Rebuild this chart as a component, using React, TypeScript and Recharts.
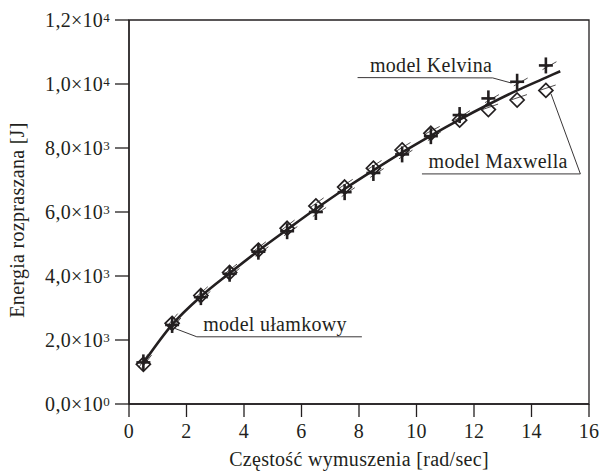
import React from 'react';
import {
  ComposedChart,
  Line,
  XAxis,
  YAxis,
  ReferenceArea,
  ReferenceLine,
  ReferenceDot,
} from 'recharts';

const INK = '#231f20';
const FONT = '"Liberation Serif", "Times New Roman", serif';
const FONT_SIZE = 20;
const SPACING = 0.3;

// Forcing frequency [rad/sec] at which the models were evaluated
const pulsation = [0.5, 1.5, 2.5, 3.5, 4.5, 5.5, 6.5, 7.5, 8.5, 9.5, 10.5, 11.5, 12.5, 13.5, 14.5];

// Dissipated energy [J] – Kelvin model (+)
const kelvinEnergy = [1300, 2470, 3340, 4070, 4760, 5400, 6000, 6620, 7220, 7800, 8370, 9030, 9550, 10070, 10580];

// Dissipated energy [J] – Maxwell model (diamonds)
const maxwellEnergy = [1240, 2520, 3390, 4110, 4810, 5490, 6190, 6780, 7370, 7940, 8460, 8870, 9200, 9500, 9800];

// Dissipated energy [J] – fractional model (solid curve)
const fractionalX = [0.5, 1.5, 2.5, 3.5, 4.5, 5.5, 6.5, 7.5, 8.5, 9.5, 10.5, 11.5, 12.5, 13.5, 14.5, 15];
const fractionalEnergy = [1280, 2480, 3360, 4090, 4790, 5450, 6100, 6720, 7300, 7860, 8390, 8890, 9360, 9800, 10200, 10400];

const xTicks = [0, 2, 4, 6, 8, 10, 12, 14, 16];
const yTicks = [0, 2000, 4000, 6000, 8000, 10000, 12000];
const yTickMantissa = ['0,0', '2,0', '4,0', '6,0', '8,0', '1,0', '1,2'];
const yTickExponent = ['0', '3', '3', '3', '3', '4', '4'];

const kelvinRows = pulsation.map((x, i) => ({ x, energy: kelvinEnergy[i] }));
const maxwellRows = pulsation.map((x, i) => ({ x, energy: maxwellEnergy[i] }));
const fractionalRows = fractionalX.map((x, i) => ({ x, energy: fractionalEnergy[i] }));

// Callout labels with their leader lines (in axis units)
const callouts = [
  {
    text: 'model Kelvina',
    at: { x: 8.38, y: 10390 },
    leader: [
      { x: 7.95, y: 10200 },
      { x: 12.65, y: 10190 },
      { x: 13.3, y: 10030 },
    ],
  },
  {
    text: 'model Maxwella',
    at: { x: 10.42, y: 7360 },
    leader: [
      { x: 10.19, y: 7190 },
      { x: 15.7, y: 7190 },
      { x: 14.68, y: 9690 },
    ],
  },
  {
    text: 'model ułamkowy',
    at: { x: 2.58, y: 2290 },
    leader: [
      { x: 8.1, y: 2100 },
      { x: 2.36, y: 2100 },
      { x: 1.6, y: 2360 },
    ],
  },
];

const textStyle = {
  fontFamily: FONT,
  fontSize: FONT_SIZE,
  letterSpacing: SPACING,
  fill: INK,
};

function YTick(props: any) {
  const { x, y, payload } = props;
  const i = yTicks.indexOf(payload.value);
  return (
    <text x={x} y={y} textAnchor="end" {...textStyle}>
      <tspan dy={6.5}>{`${yTickMantissa[i]}×10`}</tspan>
      <tspan dy={-5} fontSize={13}>
        {yTickExponent[i]}
      </tspan>
    </text>
  );
}

function XTick(props: any) {
  const { x, y, payload } = props;
  return (
    <text x={x} y={y} dy="0.71em" textAnchor="middle" {...textStyle}>
      {payload.value}
    </text>
  );
}

function XTitle(props: any) {
  const vb = props.viewBox || { x: 129, y: 404, width: 460, height: 67 };
  return (
    <text x={vb.x + vb.width / 2} y={vb.y + 62} textAnchor="middle" {...textStyle}>
      Częstość wymuszenia [rad/sec]
    </text>
  );
}

function YTitle(props: any) {
  const vb = props.viewBox || { x: 0, y: 20, width: 129, height: 384 };
  const cx = vb.x + 24;
  const cy = vb.y + vb.height / 2 + 8;
  return (
    <text
      x={cx}
      y={cy}
      textAnchor="middle"
      transform={`rotate(-90 ${cx} ${cy})`}
      {...textStyle}
    >
      Energia rozpraszana [J]
    </text>
  );
}

// Thin tangent stroke drawn alongside each model marker
function tangentStroke(props: any, side: number) {
  const { cx, cy, index, points } = props;
  if (!points || points.length < 2) return null;
  const a = points[Math.max(0, index - 1)];
  const b = points[Math.min(points.length - 1, index + 1)];
  const dx = b.x - a.x;
  const dy = b.y - a.y;
  const len = Math.hypot(dx, dy) || 1;
  const ux = dx / len;
  const uy = dy / len;
  const ox = -uy * 2 * side;
  const oy = ux * 2 * side;
  return (
    <line
      x1={cx - ux * 5 + ox}
      y1={cy - uy * 5 + oy}
      x2={cx + ux * 11 + ox}
      y2={cy + uy * 11 + oy}
      stroke={INK}
      strokeWidth={0.8}
    />
  );
}

function PlusDot(props: any) {
  const { cx, cy } = props;
  if (cx == null || cy == null) return null;
  return (
    <g key={`k-${props.index}`}>
      {tangentStroke(props, 1)}
      <line x1={cx} y1={cy - 8} x2={cx} y2={cy + 8} stroke={INK} strokeWidth={2.6} />
      <line x1={cx - 7} y1={cy} x2={cx + 7} y2={cy} stroke={INK} strokeWidth={2.6} />
    </g>
  );
}

function DiamondDot(props: any) {
  const { cx, cy } = props;
  if (cx == null || cy == null) return null;
  const r = 7;
  return (
    <g key={`m-${props.index}`}>
      {tangentStroke(props, -1)}
      <polygon
        points={`${cx},${cy - r} ${cx + r},${cy} ${cx},${cy + r} ${cx - r},${cy}`}
        fill="none"
        stroke={INK}
        strokeWidth={1.7}
      />
    </g>
  );
}

export default function App() {
  return (
    <div style={{ position: 'absolute', left: 0, top: 0, background: '#fff' }}>
      <ComposedChart
        width={600}
        height={471}
        margin={{ top: 20, right: 11, left: 0, bottom: 0 }}
      >
        <XAxis
          type="number"
          dataKey="x"
          domain={[0, 16]}
          ticks={xTicks}
          interval={0}
          allowDataOverflow
          height={67}
          tickSize={13}
          tickMargin={7}
          axisLine={{ stroke: INK, strokeWidth: 1.3 }}
          tickLine={{ stroke: INK, strokeWidth: 1.3 }}
          tick={<XTick />}
          label={<XTitle />}
        />
        <YAxis
          type="number"
          domain={[0, 12000]}
          ticks={yTicks}
          interval={0}
          allowDataOverflow
          width={129}
          tickSize={14}
          tickMargin={5}
          axisLine={{ stroke: INK, strokeWidth: 1.3 }}
          tickLine={{ stroke: INK, strokeWidth: 1.3 }}
          tick={<YTick />}
          label={<YTitle />}
        />
        <ReferenceArea
          x1={0}
          x2={16}
          y1={0}
          y2={12000}
          fill="none"
          stroke={INK}
          strokeWidth={1.3}
          fillOpacity={0}
        />

        {callouts.map((c) => (
          <ReferenceLine
            key={`l1-${c.text}`}
            segment={[c.leader[0], c.leader[1]]}
            stroke={INK}
            strokeWidth={0.9}
            ifOverflow="visible"
          />
        ))}
        {callouts.map((c) => (
          <ReferenceLine
            key={`l2-${c.text}`}
            segment={[c.leader[1], c.leader[2]]}
            stroke={INK}
            strokeWidth={0.9}
            ifOverflow="visible"
          />
        ))}
        {callouts.map((c) => (
          <ReferenceDot
            key={`t-${c.text}`}
            x={c.at.x}
            y={c.at.y}
            r={0}
            ifOverflow="visible"
            shape={(p: any) => (
              <text x={p.cx} y={p.cy} textAnchor="start" {...textStyle}>
                {c.text}
              </text>
            )}
          />
        ))}

        <Line
          data={fractionalRows}
          dataKey="energy"
          type="monotone"
          stroke={INK}
          strokeWidth={2.6}
          dot={false}
          activeDot={false}
          isAnimationActive={false}
        />
        <Line
          data={maxwellRows}
          dataKey="energy"
          stroke="none"
          dot={(p: any) => <DiamondDot {...p} />}
          activeDot={false}
          isAnimationActive={false}
        />
        <Line
          data={kelvinRows}
          dataKey="energy"
          stroke="none"
          dot={(p: any) => <PlusDot {...p} />}
          activeDot={false}
          isAnimationActive={false}
        />
      </ComposedChart>
    </div>
  );
}
